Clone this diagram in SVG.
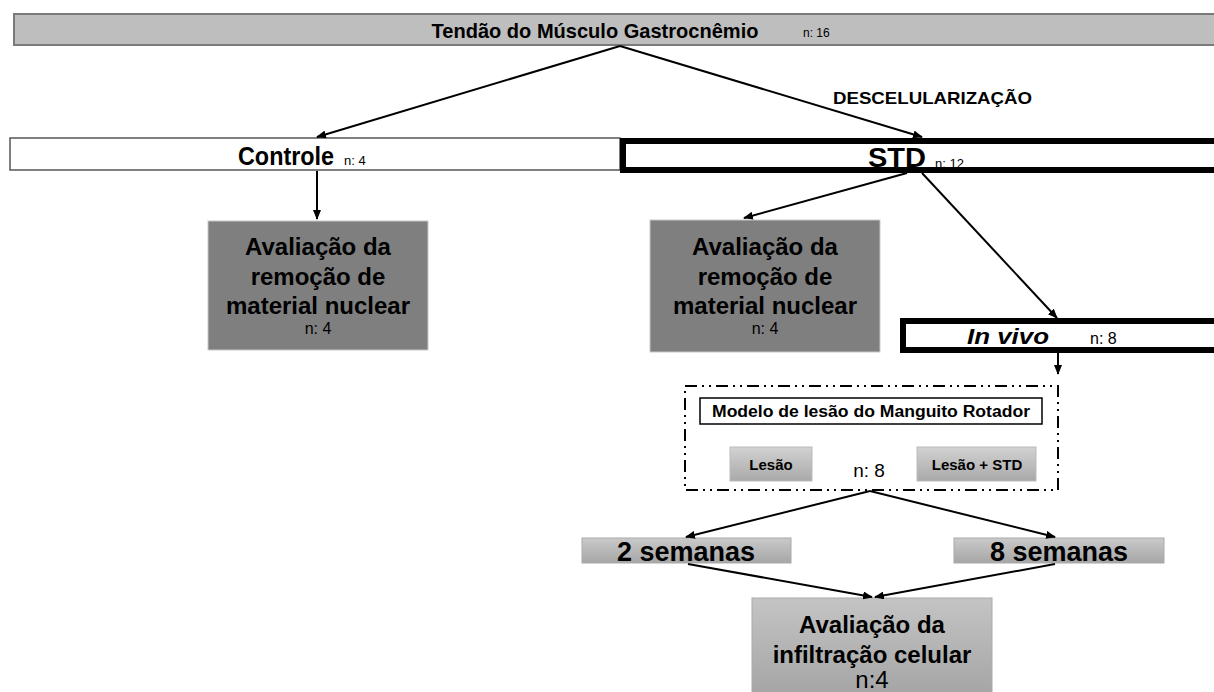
<svg xmlns="http://www.w3.org/2000/svg" width="1214" height="692" viewBox="0 0 1214 692">
<defs>
<linearGradient id="gbtn" x1="0" y1="0" x2="0" y2="1"><stop offset="0" stop-color="#d2d2d2"/><stop offset="1" stop-color="#a9a9a9"/></linearGradient>
<linearGradient id="gsem" x1="0" y1="0" x2="0" y2="1"><stop offset="0" stop-color="#cacaca"/><stop offset="1" stop-color="#a6a6a6"/></linearGradient>
<linearGradient id="gfin" x1="0" y1="0" x2="0" y2="1"><stop offset="0" stop-color="#c4c4c4"/><stop offset="1" stop-color="#a4a4a4"/></linearGradient>
<marker id="ah" markerWidth="10" markerHeight="8" refX="9" refY="4" orient="auto" markerUnits="userSpaceOnUse"><path d="M0,0 L10,4 L0,8 Z" fill="#000"/></marker>
<style>
text{font-family:"Liberation Sans",Arial,sans-serif;fill:#000}
.b{font-weight:bold}
.c{text-anchor:middle}
.con line{stroke:#000;stroke-width:2;marker-end:url(#ah)}
.dark{fill:#7f7f7f;stroke:#c8c8c8;stroke-width:1}
.thick{fill:#fff;stroke:#000;stroke-width:6}
</style>
</defs>
<rect width="1214" height="692" fill="#fff"/>

<g id="top">
<rect x="14" y="14" width="1204" height="31" fill="#bebebe" stroke="#7a7a7a" stroke-width="2"/>
<text x="595" y="38" class="b c" font-size="21" textLength="327" lengthAdjust="spacingAndGlyphs">Tendão do Músculo Gastrocnêmio</text>
<text x="803" y="37" font-size="12">n: 16</text>
</g>

<g id="label-descel">
<text x="833" y="104" class="b" font-size="17" textLength="199" lengthAdjust="spacingAndGlyphs">DESCELULARIZAÇÃO</text>
</g>

<g id="controle">
<rect x="10" y="138" width="610" height="32" fill="#fff" stroke="#555" stroke-width="1.5"/>
<text x="286" y="165" class="b c" font-size="26" textLength="96" lengthAdjust="spacingAndGlyphs">Controle</text>
<text x="344" y="165" font-size="13">n: 4</text>
</g>

<g id="std">
<rect x="623" y="141" width="600" height="29" class="thick"/>
<text x="897" y="167" class="b c" font-size="28" textLength="58" lengthAdjust="spacingAndGlyphs">STD</text>
<text x="935" y="168" font-size="13">n: 12</text>
</g>

<g id="aval-controle">
<rect x="208" y="221" width="220" height="129" class="dark"/>
<text x="318" y="255" class="b c" font-size="24">Avaliação da</text>
<text x="318" y="285" class="b c" font-size="24">remoção de</text>
<text x="318" y="314" class="b c" font-size="24">material nuclear</text>
<text x="318" y="334" class="c" font-size="16">n: 4</text>
</g>

<g id="aval-std">
<rect x="650" y="220" width="230" height="132" class="dark"/>
<text x="765" y="255" class="b c" font-size="24">Avaliação da</text>
<text x="765" y="285" class="b c" font-size="24">remoção de</text>
<text x="765" y="314" class="b c" font-size="24">material nuclear</text>
<text x="765" y="334" class="c" font-size="16">n: 4</text>
</g>

<g id="invivo">
<rect x="903" y="321" width="320" height="29" class="thick"/>
<text x="1008" y="344" class="b c" font-size="22" font-style="italic" textLength="82" lengthAdjust="spacingAndGlyphs">In vivo</text>
<text x="1090" y="344" font-size="16">n: 8</text>
</g>

<g id="modelo">
<rect x="685" y="386" width="373" height="104" fill="none" stroke="#000" stroke-width="2" stroke-dasharray="12 5 2 5 2 5"/>
<rect x="700" y="398" width="342" height="26" fill="#fff" stroke="#000" stroke-width="1.5"/>
<text x="871" y="417" class="b c" font-size="16" textLength="318" lengthAdjust="spacingAndGlyphs">Modelo de lesão do Manguito Rotador</text>
<rect x="730" y="447" width="82" height="34" fill="url(#gbtn)" stroke="#bbb" stroke-width="1"/>
<text x="771" y="470" class="b c" font-size="15">Lesão</text>
<rect x="917" y="447" width="119" height="34" fill="url(#gbtn)" stroke="#bbb" stroke-width="1"/>
<text x="977" y="470" class="b c" font-size="15">Lesão + STD</text>
<text x="869" y="477" class="c" font-size="19">n: 8</text>
</g>

<g id="sem2">
<rect x="582" y="538" width="209" height="25" fill="url(#gsem)" stroke="#aaa" stroke-width="1"/>
<text x="686" y="561" class="b c" font-size="27">2 semanas</text>
</g>

<g id="sem8">
<rect x="954" y="538" width="210" height="25" fill="url(#gsem)" stroke="#aaa" stroke-width="1"/>
<text x="1059" y="561" class="b c" font-size="27">8 semanas</text>
</g>

<g id="aval-infiltracao">
<rect x="752" y="598" width="240" height="100" fill="url(#gfin)" stroke="#aaa" stroke-width="1"/>
<text x="872" y="633" class="b c" font-size="24">Avaliação da</text>
<text x="872" y="663" class="b c" font-size="24">infiltração celular</text>
<text x="872" y="688" class="c" font-size="24">n:4</text>
</g>

<g id="connectors" class="con">
<line x1="620" y1="46" x2="317" y2="137"/>
<line x1="620" y1="46" x2="922" y2="137"/>
<line x1="317" y1="171" x2="317" y2="219"/>
<line x1="907" y1="173" x2="744" y2="218"/>
<line x1="922" y1="173" x2="1057" y2="318"/>
<line x1="1058" y1="353" x2="1058" y2="374"/>
<line x1="870" y1="491" x2="686" y2="537"/>
<line x1="870" y1="491" x2="1055" y2="537"/>
<line x1="688" y1="564" x2="872" y2="597"/>
<line x1="1055" y1="564" x2="875" y2="597"/>
</g>
</svg>
